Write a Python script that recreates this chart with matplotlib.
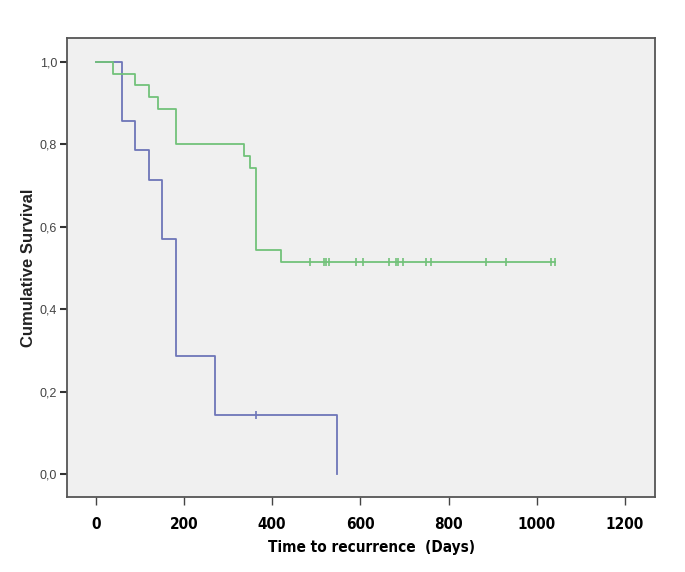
import matplotlib
matplotlib.use("Agg")
import matplotlib.pyplot as plt

# ---- data ----
blue_times = [0, 60, 90, 120, 150, 181, 270, 546]
blue_surv = [1.0, 0.857, 0.786, 0.714, 0.571, 0.286, 0.143, 0.0]
blue_cens_t = [364]
blue_cens_s = [0.143]

green_times = [0, 39, 90, 120, 140, 181, 335, 350, 364, 419, 1041]
green_surv = [1.0, 0.971, 0.943, 0.914, 0.886, 0.800, 0.771, 0.743, 0.543, 0.514, 0.514]
green_cens_t = [486, 518, 523, 528, 590, 606, 664, 680, 685, 697, 750, 761, 886, 931, 1033, 1041]
green_cens_s = [0.514] * len(green_cens_t)

x_ticks = [0, 200, 400, 600, 800, 1000, 1200]
y_ticks = [0.0, 0.2, 0.4, 0.6, 0.8, 1.0]
y_ticklabels = ["0,0", "0,2", "0,4", "0,6", "0,8", "1,0"]

xfont = dict(family="DejaVu Sans", stretch="condensed", fontweight="bold")

fig = plt.figure(figsize=(6.85, 5.72), dpi=100)
ax = fig.add_axes([0.0974, 0.1306, 0.956 - 0.0974, 0.933 - 0.1306])
ax.set_facecolor("#f0f0f0")

blue = "#6e76b8"
green = "#72c27a"

ax.step(blue_times, blue_surv, where="post", color=blue, lw=1.3)
ax.plot(blue_cens_t, blue_cens_s, ls="none", marker="|", ms=6, mew=1.2, color=blue)
ax.step(green_times, green_surv, where="post", color=green, lw=1.3)
ax.plot(green_cens_t, green_cens_s, ls="none", marker="|", ms=6, mew=1.2, color=green)

ax.set_xlim(-66, 1268)
ax.set_ylim(-0.0565, 1.057)

ax.set_xticks(x_ticks)
ax.set_xticklabels([str(v) for v in x_ticks], fontsize=11, **xfont)
ax.set_yticks(y_ticks)
ax.set_yticklabels(y_ticklabels, family="Liberation Sans", fontsize=9, color="#444444")

ax.tick_params(axis="x", direction="out", length=6, width=1, color="#444444", pad=8)
ax.tick_params(axis="y", direction="out", length=5, width=1.5, color="#333333", pad=2)

for s in ax.spines.values():
    s.set_color("#555555")
    s.set_linewidth(1.3)

ax.set_xlabel("Time to recurrence  (Days)", fontsize=11, **xfont)
ax.xaxis.set_label_coords(0.519, -0.093)
ax.set_ylabel("Cumulative Survival", family="Liberation Sans", fontweight="bold", fontsize=12, color="#222222")
ax.yaxis.set_label_coords(-0.052, 0.5)

fig.savefig("out.png", dpi=100, facecolor="white")
